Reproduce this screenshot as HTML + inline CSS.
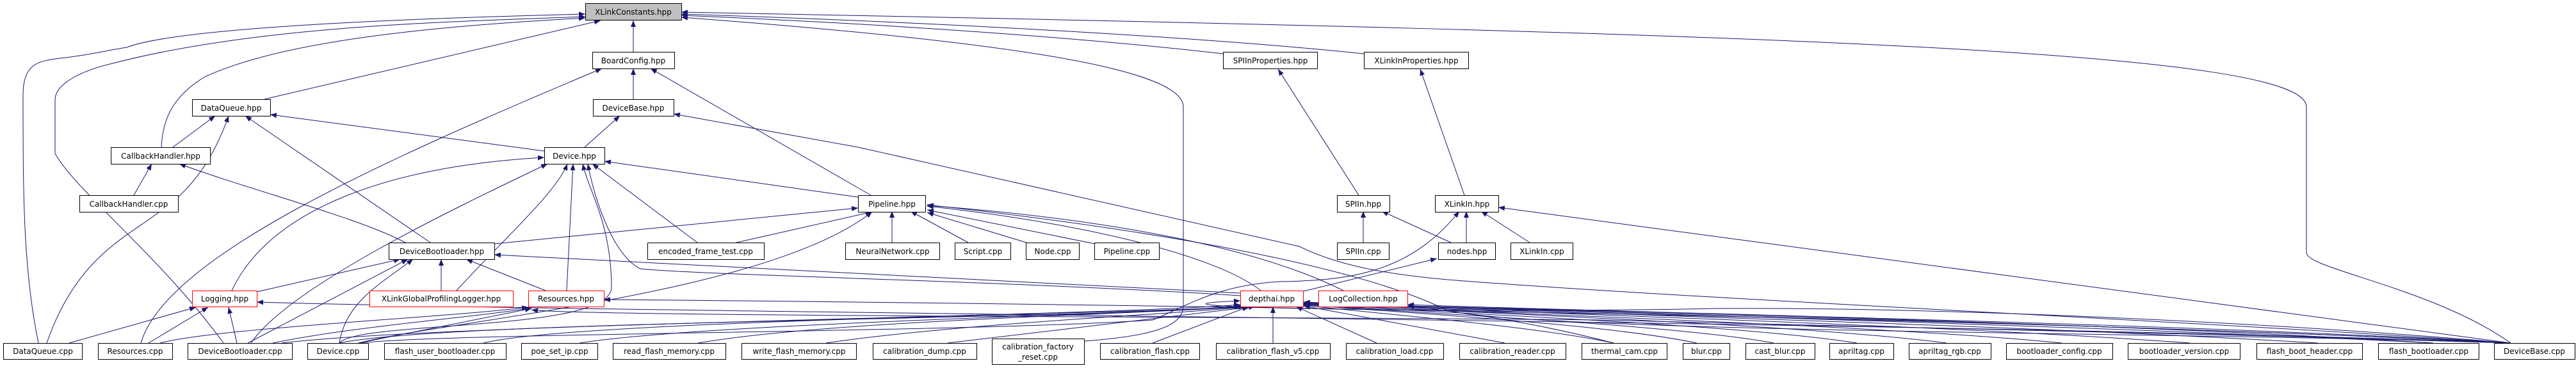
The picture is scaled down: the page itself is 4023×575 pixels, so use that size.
<!DOCTYPE html>
<html><head><meta charset="utf-8"><style>
html,body{margin:0;padding:0;background:#fff;}
svg{display:block;}
text{font-family:"DejaVu Sans","Liberation Sans",sans-serif;font-size:12px;fill:#000;}
</style></head><body>
<svg width="4023" height="575" viewBox="0 0 4023 575" xmlns="http://www.w3.org/2000/svg">
<defs>
<marker id="a" viewBox="0 0 10 8" refX="10" refY="4" markerWidth="10" markerHeight="8" markerUnits="userSpaceOnUse" orient="auto">
<path d="M0,0 L10,4 L0,8 z" fill="#191970"/>
</marker>
</defs>
<g fill="none" stroke="#191970" stroke-width="1" marker-end="url(#a)">
<!-- to XLinkConstants -->
<path d="M60,536 C36,420 36,300 36,148 C36,100 60,96 86,92 C140,86 160,80 198,74 C260,50 500,32 914,22"/>
<path d="M349,536 C250,400 120,300 86,240 C86,200 86,170 86,156 C86,130 130,110 172,100 C400,40 700,34 914,26"/>
<path d="M252,230 C254,186 270,150 320,120 C450,60 700,40 914,28"/>
<path d="M413,155 L938,32"/>
<path d="M989,81 L989,32"/>
<path d="M1910,84 C1700,60 1400,38 1064,24"/>
<path d="M2130,84 C1900,60 1500,36 1064,22"/>
<path d="M3921,536 C3800,450 3602,420 3602,395 L3602,167 C3602,80 2800,52 1064,19"/>
<path d="M1693,533 C1800,525 1848,510 1848,478 L1848,167 C1848,100 1500,60 1064,27"/>
<!-- BoardConfig -->
<path d="M989,155 L989,107"/>
<path d="M1360,305 L1016,107"/>
<path d="M220,536 C260,400 600,250 940,107"/>
<!-- DataQueue.hpp -->
<path d="M270,230 L336,181"/>
<path d="M73,536 C120,400 200,370 250,330 C310,290 340,230 357,181"/>
<path d="M672,379 L383,181"/>
<path d="M850,236 L422,179"/>
<!-- DeviceBase.hpp -->
<path d="M913,230 L968,181"/>
<path d="M3921,536 C3400,500 2700,470 2300,440 C2150,430 2080,410 2029,385 L1340,230 L1052,178"/>
<!-- CallbackHandler -->
<path d="M209,305 L237,256"/>
<path d="M633,379 C560,340 400,300 280,256"/>
<!-- Device.hpp -->
<path d="M1340,308 L944,252"/>
<path d="M392,536 C450,450 700,330 855,256"/>
<path d="M362,454 C420,330 600,260 850,246"/>
<path d="M713,454 C780,380 870,300 886,256"/>
<path d="M885,454 L895,256"/>
<path d="M530,536 C560,500 950,520 955,450 C955,350 920,300 910,256"/>
<path d="M1089,379 L925,256"/>
<path d="M1937,462 C1600,440 1100,430 1000,420 C960,400 930,320 918,256"/>
<!-- DeviceBootloader.hpp -->
<path d="M401,456 L625,405"/>
<path d="M689,454 L689,405"/>
<path d="M852,454 L728,405"/>
<path d="M387,536 L637,405"/>
<path d="M530,536 C540,470 600,440 645,405"/>
<path d="M1937,458 L772,398"/>
<!-- Pipeline.hpp -->
<path d="M772,381 L1340,325"/>
<path d="M1393,379 L1393,330"/>
<path d="M1512,379 L1422,330"/>
<path d="M1603,379 L1448,332"/>
<path d="M1710,381 L1448,328"/>
<path d="M1150,379 L1362,331"/>
<path d="M560,536 C700,500 1200,460 1362,331"/>
<path d="M1969,454 C1900,400 1700,350 1448,322"/>
<path d="M2098,454 C1950,380 1700,340 1448,321"/>
<path d="M3921,536 C3500,520 2400,520 2260,485 C2150,430 1900,370 1448,320"/>
<!-- Logging.hpp / Resources.hpp -->
<path d="M108,536 L306,480"/>
<path d="M232,536 L325,480"/>
<path d="M370,536 L357,480"/>
<path d="M3921,536 C3000,500 1000,490 401,472"/>
<path d="M250,536 C344,512 689,497 825,480"/>
<path d="M426,536 C550,510 750,495 830,481"/>
<path d="M560,536 L830,482"/>
<path d="M3921,536 C3000,490 1600,474 943,468"/>
<!-- SPIIn / XLinkIn -->
<path d="M2122,305 L1996,108"/>
<path d="M2287,305 L2218,108"/>
<path d="M2129,379 L2129,330"/>
<path d="M2266,379 L2158,330"/>
<path d="M2290,379 L2290,330"/>
<path d="M2389,379 L2313,330"/>
<path d="M2036,455 L2244,404"/>
<path d="M3921,536 L2340,324"/>
<path d="M560,536 C700,520 1500,520 1800,500 C1850,480 1900,445 2000,440 C2100,438 2200,430 2279,330"/>
<!-- to depthai.hpp from bottom row -->
<path d="M530,536 C700,500 1700,500 1937,478"/>
<path d="M440,536 C700,505 1700,495 1937,476"/>
<path d="M755,536 C900,500 1800,490 1940,479"/>
<path d="M905,536 C1100,505 1800,490 1944,479"/>
<path d="M1090,536 C1300,500 1800,490 1950,479"/>
<path d="M1290,536 C1500,505 1850,490 1954,479"/>
<path d="M1480,536 L1960,479"/>
<path d="M1800,536 L1950,479"/>
<path d="M1988,536 L1988,479"/>
<path d="M2150,536 L2024,479"/>
<path d="M2350,536 L2036,478"/>
<path d="M2520,536 C2400,510 2150,490 2036,477"/>
<path d="M2650,536 C2500,505 2200,490 2036,476"/>
<path d="M2770,536 C2600,505 2200,490 2036,475"/>
<path d="M2900,536 C2700,505 2250,490 2036,475"/>
<path d="M3040,536 C2800,505 2250,488 2036,474"/>
<path d="M3220,536 C2900,505 2250,488 2036,474"/>
<path d="M3420,536 C3000,505 2250,486 2036,473"/>
<path d="M3620,536 C3100,505 2300,486 2036,473"/>
<path d="M3800,536 C3200,505 2300,485 2036,472"/>
<path d="M3921,536 C3300,505 2300,484 2036,472"/>
<!-- to LogCollection -->
<path d="M3921,536 C3400,505 2600,490 2198,476"/>
<path d="M3800,536 C3300,505 2600,488 2198,478"/>
<path d="M2520,536 C2400,505 2300,490 2198,478"/>
<!-- extra bundle lines -->
<path d="M3921,536 C3500,500 3000,480 2680,482 C2300,490 1700,480 1937,470"/>
<path d="M3921,536 C3400,520 2800,505 2500,500 C2100,495 900,495 830,484"/>
</g>
<g stroke="#000" stroke-width="1">
<rect x="914.5" y="5.5" width="150" height="26" fill="#bfbfbf"/>
<rect x="925.5" y="81.5" width="128" height="26" fill="#fff"/>
<rect x="1910.5" y="81.5" width="147" height="26" fill="#fff"/>
<rect x="2130.5" y="81.5" width="163" height="26" fill="#fff"/>
<rect x="300.5" y="155.5" width="122" height="26" fill="#fff"/>
<rect x="926.5" y="155.5" width="126" height="26" fill="#fff"/>
<rect x="173.5" y="230.5" width="155" height="26" fill="#fff"/>
<rect x="850.5" y="230.5" width="94" height="26" fill="#fff"/>
<rect x="124.5" y="305.5" width="154" height="26" fill="#fff"/>
<rect x="1340.5" y="305.5" width="105" height="26" fill="#fff"/>
<rect x="2088.5" y="305.5" width="82" height="26" fill="#fff"/>
<rect x="2241.5" y="305.5" width="99" height="26" fill="#fff"/>
<rect x="607.5" y="379.5" width="165" height="26" fill="#fff"/>
<rect x="1011.5" y="379.5" width="182" height="26" fill="#fff"/>
<rect x="1320.5" y="379.5" width="147" height="26" fill="#fff"/>
<rect x="1491.5" y="379.5" width="87" height="26" fill="#fff"/>
<rect x="1602.5" y="379.5" width="83" height="26" fill="#fff"/>
<rect x="1709.5" y="379.5" width="101" height="26" fill="#fff"/>
<rect x="2088.5" y="379.5" width="81" height="26" fill="#fff"/>
<rect x="2246.5" y="379.5" width="89" height="26" fill="#fff"/>
<rect x="2359.5" y="379.5" width="97" height="26" fill="#fff"/>
<g stroke="#ff0000">
<rect x="300.5" y="454.5" width="101" height="25" fill="#fff"/>
<rect x="577.5" y="454.5" width="224" height="25" fill="#fff"/>
<rect x="825.5" y="454.5" width="118" height="25" fill="#fff"/>
<rect x="1937.5" y="454.5" width="98" height="25" fill="#fff"/>
<rect x="2059.5" y="454.5" width="139" height="25" fill="#fff"/>
</g>
<g fill="#fff">
<rect x="5.5" y="536.5" width="123" height="25"/>
<rect x="153.5" y="536.5" width="116" height="25"/>
<rect x="293.5" y="536.5" width="163" height="25"/>
<rect x="480.5" y="536.5" width="95" height="25"/>
<rect x="600.5" y="536.5" width="190" height="25"/>
<rect x="814.5" y="536.5" width="119" height="25"/>
<rect x="957.5" y="536.5" width="176" height="25"/>
<rect x="1158.5" y="536.5" width="179" height="25"/>
<rect x="1363.5" y="536.5" width="162" height="25"/>
<rect x="1549.5" y="529.5" width="144" height="40"/>
<rect x="1718.5" y="536.5" width="155" height="25"/>
<rect x="1899.5" y="536.5" width="178" height="25"/>
<rect x="2102.5" y="536.5" width="152" height="25"/>
<rect x="2279.5" y="536.5" width="166" height="25"/>
<rect x="2470.5" y="536.5" width="133" height="25"/>
<rect x="2628.5" y="536.5" width="73" height="25"/>
<rect x="2726.5" y="536.5" width="108" height="25"/>
<rect x="2857.5" y="536.5" width="100" height="25"/>
<rect x="2981.5" y="536.5" width="128" height="25"/>
<rect x="3133.5" y="536.5" width="166" height="25"/>
<rect x="3323.5" y="536.5" width="175" height="25"/>
<rect x="3524.5" y="536.5" width="165" height="25"/>
<rect x="3714.5" y="536.5" width="157" height="25"/>
<rect x="3895.5" y="536.5" width="126" height="25"/>
</g>
</g>
<g text-anchor="middle">
<text x="989" y="23">XLinkConstants.hpp</text>
<text x="989" y="99">BoardConfig.hpp</text>
<text x="1984" y="99">SPIInProperties.hpp</text>
<text x="2212" y="99">XLinkInProperties.hpp</text>
<text x="361" y="173">DataQueue.hpp</text>
<text x="989" y="173">DeviceBase.hpp</text>
<text x="251" y="248">CallbackHandler.hpp</text>
<text x="897" y="248">Device.hpp</text>
<text x="201" y="323">CallbackHandler.cpp</text>
<text x="1393" y="323">Pipeline.hpp</text>
<text x="2129" y="323">SPIIn.hpp</text>
<text x="2291" y="323">XLinkIn.hpp</text>
<text x="690" y="397">DeviceBootloader.hpp</text>
<text x="1102" y="397">encoded_frame_test.cpp</text>
<text x="1394" y="397">NeuralNetwork.cpp</text>
<text x="1535" y="397">Script.cpp</text>
<text x="1644" y="397">Node.cpp</text>
<text x="1760" y="397">Pipeline.cpp</text>
<text x="2129" y="397">SPIIn.cpp</text>
<text x="2291" y="397">nodes.hpp</text>
<text x="2408" y="397">XLinkIn.cpp</text>
<text x="351" y="471">Logging.hpp</text>
<text x="689" y="471">XLinkGlobalProfilingLogger.hpp</text>
<text x="884" y="471">Resources.hpp</text>
<text x="1986" y="471">depthai.hpp</text>
<text x="2129" y="471">LogCollection.hpp</text>
<text x="67" y="553">DataQueue.cpp</text>
<text x="211" y="553">Resources.cpp</text>
<text x="375" y="553">DeviceBootloader.cpp</text>
<text x="528" y="553">Device.cpp</text>
<text x="695" y="553">flash_user_bootloader.cpp</text>
<text x="874" y="553">poe_set_ip.cpp</text>
<text x="1045" y="553">read_flash_memory.cpp</text>
<text x="1248" y="553">write_flash_memory.cpp</text>
<text x="1444" y="553">calibration_dump.cpp</text>
<text x="1621" y="546">calibration_factory</text>
<text x="1621" y="562">_reset.cpp</text>
<text x="1796" y="553">calibration_flash.cpp</text>
<text x="1988" y="553">calibration_flash_v5.cpp</text>
<text x="2178" y="553">calibration_load.cpp</text>
<text x="2362" y="553">calibration_reader.cpp</text>
<text x="2537" y="553">thermal_cam.cpp</text>
<text x="2665" y="553">blur.cpp</text>
<text x="2780" y="553">cast_blur.cpp</text>
<text x="2907" y="553">apriltag.cpp</text>
<text x="3045" y="553">apriltag_rgb.cpp</text>
<text x="3216" y="553">bootloader_config.cpp</text>
<text x="3411" y="553">bootloader_version.cpp</text>
<text x="3607" y="553">flash_boot_header.cpp</text>
<text x="3793" y="553">flash_bootloader.cpp</text>
<text x="3958" y="553">DeviceBase.cpp</text>
</g>
</svg>
</body></html>
